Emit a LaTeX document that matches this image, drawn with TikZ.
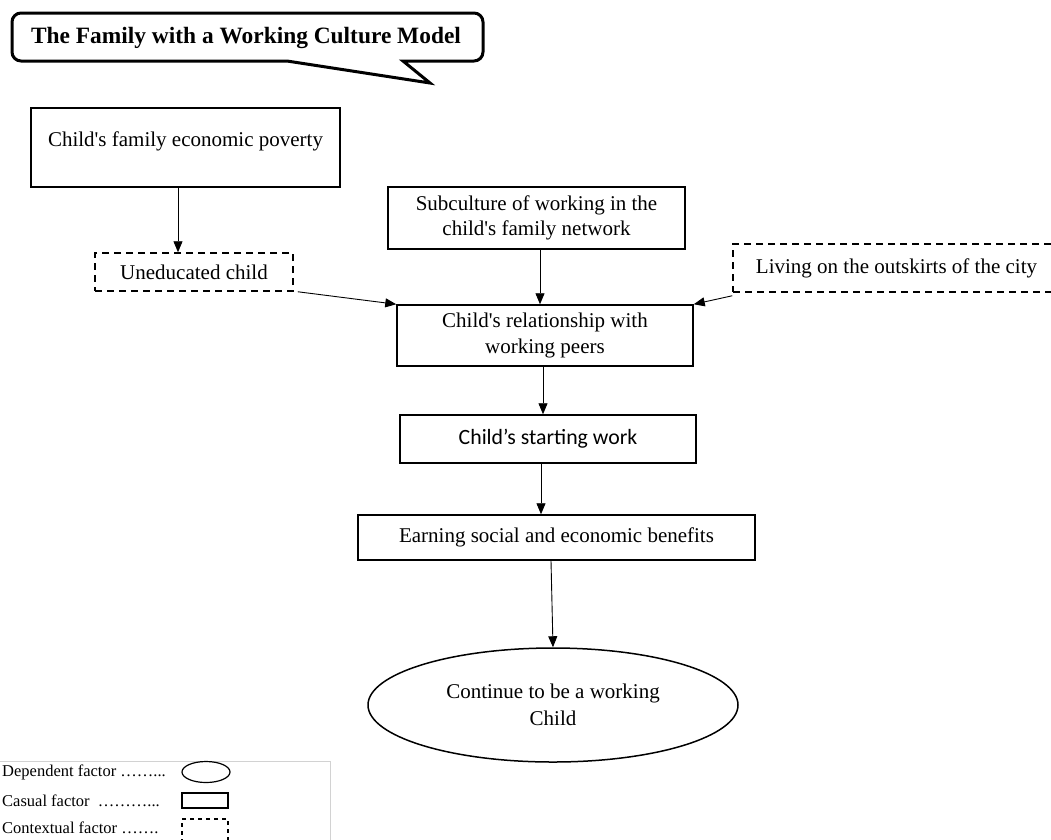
\documentclass[tikz,border=0pt]{standalone}
\usepackage{fontspec}
\setmainfont{Liberation Serif}
\newfontfamily\calibri{Carlito}
\usetikzlibrary{arrows.meta,shapes.geometric,calc}
\newcommand{\ap}{\textquotesingle}
\begin{document}
\begin{tikzpicture}[x=1pt,y=-1pt,
  txt/.style={font=\fontsize{21}{25.5}\selectfont},
  box/.style={draw,line width=1.5pt,inner sep=0pt,align=center,txt},
  dbox/.style={box,dash pattern=on 7pt off 5pt},
  arr/.style={line width=0.9pt,-{Triangle[length=11pt,width=9pt]}},
  legtxt/.style={font=\fontsize{16.5}{19}\selectfont,anchor=west,inner sep=0pt}]
\clip (0,0) rectangle (1051,839);
\fill[white] (0,0) rectangle (1051,839);
% title callout
\draw[line width=3pt,line join=miter] (430,83) -- (287,61) [rounded corners=9pt] -- (12,61) -- (12,13) -- (483,13) -- (483,61) [sharp corners] -- (403,61) -- cycle;
\node[font=\bfseries\fontsize{23.4}{27}\selectfont] (title) at (246,38) {The Family with a Working Culture Model};
% boxes
\node[box,minimum width=309pt,minimum height=79pt,text depth=16pt] (pov) at (185.5,147.5) {Child\ap s family economic poverty};
\node[dbox,minimum width=198pt,minimum height=38pt] (uned) at (194,272) {Uneducated child};
\node[box,minimum width=297pt,minimum height=62pt] (sub) at (536.5,218) {Subculture of working in the\\child\ap s family network};
\node[dbox,minimum width=327pt,minimum height=48pt] (liv) at (896.5,268) {Living on the outskirts of the city};
\node[box,minimum width=296pt,minimum height=61pt] (rel) at (545,335.5) {Child\ap s relationship with\\working peers};
\node[box,minimum width=296pt,minimum height=48pt,font=\calibri\fontsize{21.8}{25}\selectfont] (start) at (548,439) {Child’s starting work};
\node[box,minimum width=397pt,minimum height=45pt] (earn) at (556.5,537.5) {Earning social and economic benefits};
\node[draw,ellipse,line width=1.5pt,minimum width=370pt,minimum height=114pt,inner sep=0pt,align=center,font=\fontsize{21}{27}\selectfont] (cont) at (553,705) {Continue to be a working\\Child};
% connectors
\draw[arr] (pov.south -| 178,0) -- (uned.north -| 178,0);
\draw[arr] ($(uned.south east)+(4,0)$) -- (rel.north west);
\draw[arr] (sub.south -| 540,0) -- (rel.north -| 540,0);
\draw[arr] ($(liv.south west)+(0,3)$) -- (rel.north east);
\draw[arr] (rel.south -| 543,0) -- (start.north -| 543,0);
\draw[arr] (start.south -| 541,0) -- (earn.north -| 541,0);
\draw[arr] (earn.south -| 551,0) -- (cont.north);
% legend
\draw[gray!35,line width=1pt] (-2,761) rectangle (330,850);
\node[legtxt] (l1) at (2,772) {Dependent factor ……...};
\node[legtxt] (l2) at (2,801) {Casual factor \ ………...};
\node[legtxt] (l3) at (2,828) {Contextual factor …….};
\node[draw,ellipse,line width=1.2pt,minimum width=48pt,minimum height=21pt,inner sep=0pt] (le) at (206,772) {};
\node[draw,line width=1.2pt,minimum width=46pt,minimum height=15pt,inner sep=0pt] (lr) at (205,800.5) {};
\node[draw,line width=1.2pt,dash pattern=on 4pt off 4pt,minimum width=46pt,minimum height=24pt,inner sep=0pt] (ld) at (205,831) {};
\end{tikzpicture}
\end{document}
